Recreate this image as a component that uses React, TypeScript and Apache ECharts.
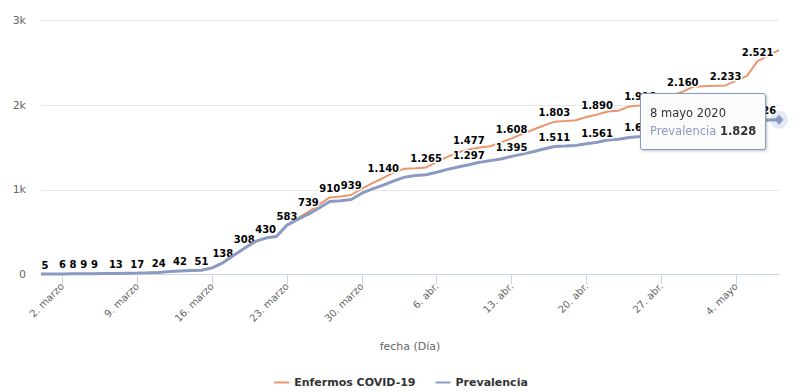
import React, { useEffect, useRef } from "react";
import * as echarts from "echarts";

const dates = [
  "2020-02-29",
  "2020-03-01","2020-03-02","2020-03-03","2020-03-04","2020-03-05","2020-03-06","2020-03-07","2020-03-08","2020-03-09","2020-03-10",
  "2020-03-11","2020-03-12","2020-03-13","2020-03-14","2020-03-15","2020-03-16","2020-03-17","2020-03-18","2020-03-19","2020-03-20",
  "2020-03-21","2020-03-22","2020-03-23","2020-03-24","2020-03-25","2020-03-26","2020-03-27","2020-03-28","2020-03-29","2020-03-30","2020-03-31",
  "2020-04-01","2020-04-02","2020-04-03","2020-04-04","2020-04-05","2020-04-06","2020-04-07","2020-04-08","2020-04-09","2020-04-10",
  "2020-04-11","2020-04-12","2020-04-13","2020-04-14","2020-04-15","2020-04-16","2020-04-17","2020-04-18","2020-04-19","2020-04-20",
  "2020-04-21","2020-04-22","2020-04-23","2020-04-24","2020-04-25","2020-04-26","2020-04-27","2020-04-28","2020-04-29","2020-04-30",
  "2020-05-01","2020-05-02","2020-05-03","2020-05-04","2020-05-05","2020-05-06","2020-05-07","2020-05-08",
];

const enfermos = [
  5,
  5, 6, 8, 9, 9, 11, 13, 15, 17, 20,
  24, 34, 42, 48, 51, 78, 138, 225, 308, 388,
  430, 448, 583, 665, 739, 825, 910, 920, 939, 1015, 1080,
  1140, 1205, 1250, 1255, 1265, 1330, 1390, 1445, 1477, 1500,
  1515, 1560, 1608, 1660, 1710, 1760, 1803, 1812, 1822, 1860,
  1890, 1925, 1935, 1985, 1996, 2020, 2065, 2115, 2160, 2218,
  2224, 2228, 2233, 2290, 2345, 2521, 2585, 2650,
];

const prevalencia = [
  5,
  5, 6, 8, 9, 9, 11, 13, 15, 17, 20,
  24, 34, 42, 48, 51, 78, 138, 225, 308, 388,
  430, 448, 583, 650, 712, 785, 862, 872, 885, 960, 1012,
  1055, 1105, 1150, 1168, 1178, 1208, 1242, 1270, 1297, 1325,
  1345, 1365, 1395, 1422, 1450, 1482, 1511, 1517, 1525, 1545,
  1561, 1588, 1598, 1618, 1630, 1645, 1665, 1690, 1720, 1745,
  1760, 1770, 1778, 1792, 1806, 1816, 1826, 1828,
];

const enfermosLabelIdx = [0, 2, 3, 4, 5, 7, 9, 11, 13, 15, 17, 19, 21, 23, 25, 27, 29, 32, 36, 40, 44, 48, 52, 56, 60, 64, 67];
const prevalenciaLabelIdx = [40, 44, 48, 52, 56, 68];

const yTicks = [0, 1000, 2000, 3000];
const monthShort = ["", "ene.", "feb.", "marzo", "abr.", "mayo", "jun."];
const monthLong = ["", "enero", "febrero", "marzo", "abril", "mayo", "junio"];

const ORANGE = "#e9966e";
const BLUE = "#8a9ac2";
const FONT = "DejaVu Sans";

const fmtNum = (v: number) => String(v).replace(/\B(?=(\d{3})+(?!\d))/g, ".");
const axisDate = (s: string) => {
  const [, m, d] = s.split("-").map(Number);
  return `${d}. ${monthShort[m]}`;
};
const longDate = (s: string) => {
  const [y, m, d] = s.split("-").map(Number);
  return `${d} ${monthLong[m]} ${y}`;
};
const tickShown = (i: number) => i >= 2 && (i - 2) % 7 === 0;

const labelStyle = {
  show: true,
  position: "top" as const,
  distance: 4,
  fontFamily: FONT,
  fontSize: 10,
  fontWeight: "bold" as const,
  color: "#000",
  textBorderColor: "#fff",
  textBorderWidth: 3,
  formatter: (p: any) => fmtNum(p.value),
};

export default function App() {
  const ref = useRef<HTMLDivElement>(null);

  useEffect(() => {
    document.body.style.margin = "0";
    if (!ref.current) return;
    const chart = echarts.init(ref.current, null, { renderer: "svg" });
    const last = prevalencia.length - 1;

    const enfData = enfermos.map((v, i) => {
      if (!enfermosLabelIdx.includes(i)) return v;
      return { value: v, label: { ...labelStyle, offset: i === 0 ? [4, 0] : [0, 0] } };
    });
    const prevData = prevalencia.map((v, i) => {
      const item: any = { value: v };
      if (prevalenciaLabelIdx.includes(i)) {
        item.label = { ...labelStyle, offset: i === 68 ? [-8, 0] : [0, 0] };
      }
      if (i === last) {
        item.symbol = "diamond";
        item.symbolSize = [9, 10];
        item.itemStyle = { color: BLUE, opacity: 1 };
      }
      return item;
    });

    chart.setOption({
      animation: false,
      textStyle: { fontFamily: FONT },
      grid: { left: 41, right: 23, top: 20.5, bottom: 117.5, containLabel: false },
      tooltip: {
        trigger: "item",
        triggerOn: "none",
        alwaysShowContent: true,
        transitionDuration: 0,
        position: [640, 93],
        backgroundColor: "#fbfbfb",
        borderColor: BLUE,
        borderWidth: 1,
        borderRadius: 3,
        padding: [10, 9, 9, 9],
        extraCssText: "box-shadow: 1px 1px 3px rgba(0,0,0,0.25);",
        formatter: (p: any) =>
          `<div style="font-family:'DejaVu Sans';font-size:11.5px;line-height:18px;color:#333">${longDate(dates[p.dataIndex])}</div>` +
          `<div style="font-family:'DejaVu Sans';font-size:11.5px;line-height:18px;color:#333"><span style="color:${BLUE}">${p.seriesName}</span> <b>${fmtNum(p.value)}</b></div>`,
      },
      legend: {
        left: "center",
        top: 372,
        icon: "rect",
        itemWidth: 15,
        itemHeight: 2,
        itemGap: 20,
        textStyle: { fontFamily: FONT, fontSize: 11, fontWeight: "bold", color: "#333" },
        data: ["Enfermos COVID-19", "Prevalencia"],
      },
      xAxis: {
        type: "category",
        data: dates,
        boundaryGap: false,
        name: "fecha (Día)",
        nameLocation: "middle",
        nameGap: 66,
        nameTextStyle: { fontFamily: FONT, fontSize: 11, color: "#666" },
        axisLine: { lineStyle: { color: "#ccd6eb", width: 1 } },
        axisTick: { show: true, length: 10, interval: (i: number) => tickShown(i), lineStyle: { color: "#ccd6eb" } },
        axisLabel: {
          interval: (i: number) => tickShown(i),
          rotate: 45,
          margin: 10,
          fontFamily: FONT,
          fontSize: 10,
          color: "#666",
          formatter: (v: string) => axisDate(v),
        },
        splitLine: { show: false },
      },
      yAxis: {
        type: "value",
        min: yTicks[0],
        max: yTicks[yTicks.length - 1],
        interval: 1000,
        axisLine: { show: false },
        axisTick: { show: false },
        axisLabel: {
          margin: 15,
          fontFamily: FONT,
          fontSize: 11,
          color: "#666",
          formatter: (v: number) => (v === 0 ? "0" : `${v / 1000}k`),
        },
        splitLine: { lineStyle: { color: "#e6e6e6", width: 1 } },
      },
      series: [
        {
          name: "Enfermos COVID-19",
          type: "line",
          data: enfData,
          symbol: "circle",
          symbolSize: 0,
          showSymbol: true,
          showAllSymbol: true,
          itemStyle: { color: ORANGE },
          lineStyle: { color: ORANGE, width: 2 },
          label: { show: false },
          emphasis: { disabled: true },
          z: 2,
        },
        {
          name: "Prevalencia",
          type: "line",
          data: prevData,
          symbol: "circle",
          symbolSize: 0,
          showSymbol: true,
          showAllSymbol: true,
          itemStyle: { color: BLUE },
          lineStyle: { color: BLUE, width: 3 },
          label: { show: false },
          emphasis: { disabled: true },
          z: 3,
          markPoint: {
            silent: true,
            symbol: "circle",
            symbolSize: 18,
            itemStyle: { color: "rgba(138,154,194,0.22)" },
            label: { show: false },
            data: [{ coord: [dates[last], prevalencia[last]] }],
          },
        },
      ],
    });

    chart.dispatchAction({ type: "showTip", seriesIndex: 1, dataIndex: last });

    return () => chart.dispose();
  }, []);

  return <div ref={ref} style={{ width: 802, height: 392 }} />;
}
